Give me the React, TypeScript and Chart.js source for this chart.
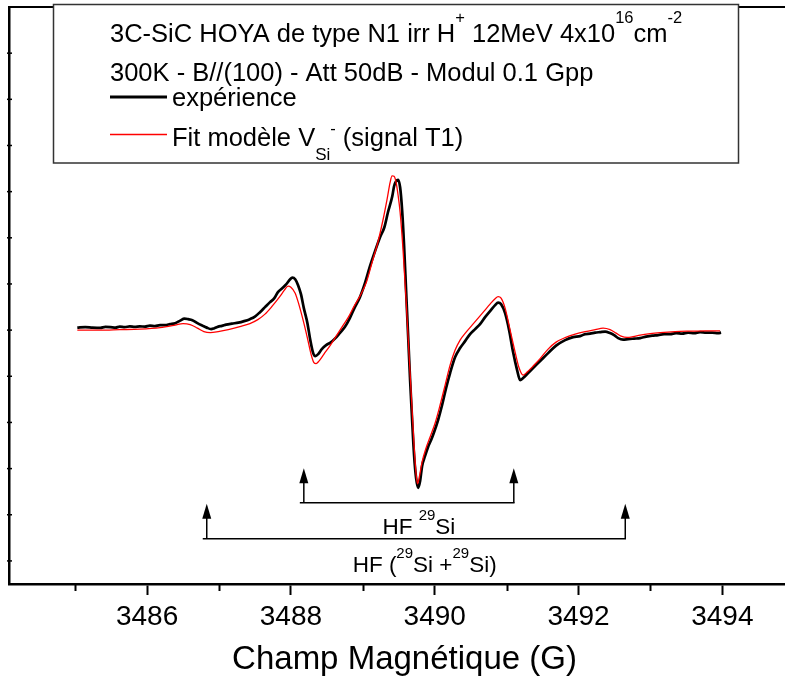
import React, { useEffect, useRef } from 'react';
import { Chart, registerables } from 'chart.js';

Chart.register(...registerables);

const FONT = '"Liberation Sans", Arial, Helvetica, sans-serif';

// Spectre expérimental : [champ (G), signal RPE (u.a.)]
const expPoints: [number, number][] = [
  [3485.03, 0.054], [3485.14, 0.065], [3485.24, 0.054], [3485.35, 0.048], [3485.42, 0.069],
  [3485.49, 0.065], [3485.56, 0.054], [3485.62, 0.076], [3485.69, 0.065], [3485.76, 0.08],
  [3485.83, 0.069], [3485.9, 0.08], [3485.97, 0.076], [3486.04, 0.097], [3486.11, 0.087],
  [3486.18, 0.108], [3486.25, 0.108], [3486.32, 0.13], [3486.39, 0.151], [3486.46, 0.206],
  [3486.52, 0.249], [3486.57, 0.238], [3486.63, 0.216], [3486.7, 0.151], [3486.77, 0.097],
  [3486.83, 0.054], [3486.89, 0.022], [3486.93, 0.037], [3486.99, 0.076], [3487.04, 0.091],
  [3487.1, 0.119], [3487.18, 0.141], [3487.27, 0.162], [3487.35, 0.195], [3487.43, 0.238],
  [3487.5, 0.292], [3487.57, 0.389], [3487.64, 0.498], [3487.71, 0.606], [3487.77, 0.692],
  [3487.82, 0.822], [3487.88, 0.909], [3487.93, 0.984], [3487.99, 1.103], [3488.02, 1.136],
  [3488.06, 1.103], [3488.1, 0.974], [3488.14, 0.779], [3488.18, 0.476], [3488.23, 0.151],
  [3488.27, -0.216], [3488.31, -0.498], [3488.34, -0.563], [3488.38, -0.519], [3488.43, -0.411],
  [3488.49, -0.325], [3488.55, -0.27], [3488.62, -0.173], [3488.68, -0.065], [3488.75, 0.065],
  [3488.82, 0.26], [3488.89, 0.498], [3488.96, 0.714], [3489.03, 1.017], [3489.1, 1.385],
  [3489.17, 1.709], [3489.24, 2.012], [3489.3, 2.229], [3489.35, 2.553], [3489.41, 2.899],
  [3489.435, 3.116], [3489.463, 3.224], [3489.491, 3.256], [3489.519, 3.094], [3489.547, 2.596],
  [3489.574, 1.839], [3489.602, 0.865], [3489.63, -0.108], [3489.658, -1.082], [3489.686, -1.947],
  [3489.713, -2.705], [3489.741, -3.202], [3489.769, -3.418], [3489.797, -3.267], [3489.825, -2.942],
  [3489.866, -2.726], [3489.908, -2.531], [3489.95, -2.38], [3489.992, -2.207], [3490.047, -1.947],
  [3490.103, -1.623], [3490.158, -1.255], [3490.214, -0.93], [3490.284, -0.584], [3490.353, -0.389],
  [3490.423, -0.238], [3490.492, -0.087], [3490.562, 0.022], [3490.631, 0.13], [3490.701, 0.281],
  [3490.77, 0.411], [3490.84, 0.541], [3490.882, 0.595], [3490.923, 0.563], [3490.979, 0.368],
  [3491.035, 0.0], [3491.09, -0.476], [3491.146, -0.865], [3491.188, -1.082], [3491.229, -1.039],
  [3491.299, -0.93], [3491.368, -0.822], [3491.466, -0.671], [3491.577, -0.498], [3491.688, -0.335],
  [3491.814, -0.216], [3491.925, -0.151], [3492.022, -0.13], [3492.092, -0.087], [3492.161, -0.076],
  [3492.231, -0.054], [3492.3, -0.043], [3492.37, -0.032], [3492.439, -0.065], [3492.495, -0.108],
  [3492.551, -0.173], [3492.62, -0.206], [3492.69, -0.195], [3492.773, -0.184], [3492.857, -0.173],
  [3492.94, -0.141], [3493.024, -0.119], [3493.107, -0.108], [3493.19, -0.087], [3493.274, -0.087],
  [3493.357, -0.065], [3493.441, -0.076], [3493.524, -0.054], [3493.608, -0.065], [3493.691, -0.043],
  [3493.775, -0.054], [3493.858, -0.054], [3493.941, -0.065], [3493.983, -0.054],
];

// Fit modèle V_Si- (signal T1) : [champ (G), signal (u.a.)]
const fitPoints: [number, number][] = [
  [3485.03, 0.0], [3485.35, 0.0], [3485.62, 0.011], [3485.9, 0.022], [3486.18, 0.054],
  [3486.39, 0.108], [3486.5, 0.141], [3486.6, 0.119], [3486.7, 0.043], [3486.79, -0.032],
  [3486.88, -0.054], [3486.99, -0.032], [3487.13, 0.011], [3487.29, 0.076], [3487.43, 0.141],
  [3487.54, 0.227], [3487.64, 0.346], [3487.74, 0.519], [3487.84, 0.714], [3487.91, 0.865],
  [3487.96, 0.952], [3488.0, 0.93], [3488.06, 0.801], [3488.11, 0.563], [3488.17, 0.216],
  [3488.23, -0.173], [3488.28, -0.519], [3488.32, -0.703], [3488.35, -0.725], [3488.39, -0.671],
  [3488.46, -0.519], [3488.55, -0.325], [3488.63, -0.13], [3488.71, 0.065], [3488.8, 0.281],
  [3488.88, 0.519], [3488.96, 0.736], [3489.05, 1.039], [3489.13, 1.471], [3489.21, 1.904],
  [3489.28, 2.38], [3489.34, 2.856], [3489.38, 3.202], [3489.407, 3.343], [3489.435, 3.332],
  [3489.463, 3.202], [3489.491, 2.921], [3489.519, 2.553], [3489.56, 1.731], [3489.602, 0.649],
  [3489.644, -0.541], [3489.686, -1.731], [3489.713, -2.488], [3489.741, -3.116], [3489.762, -3.332],
  [3489.783, -3.202], [3489.825, -2.856], [3489.88, -2.553], [3489.936, -2.315], [3490.006, -2.012],
  [3490.075, -1.623], [3490.145, -1.19], [3490.214, -0.757], [3490.284, -0.433], [3490.353, -0.216],
  [3490.437, -0.043], [3490.52, 0.108], [3490.604, 0.26], [3490.687, 0.411], [3490.77, 0.563],
  [3490.84, 0.682], [3490.882, 0.725], [3490.923, 0.692], [3490.979, 0.476], [3491.049, 0.0],
  [3491.118, -0.476], [3491.174, -0.822], [3491.229, -0.974], [3491.285, -0.909], [3491.368, -0.779],
  [3491.466, -0.617], [3491.577, -0.411], [3491.688, -0.26], [3491.814, -0.162], [3491.953, -0.087],
  [3492.092, -0.032], [3492.231, 0.011], [3492.342, 0.043], [3492.439, 0.011], [3492.523, -0.065],
  [3492.592, -0.13], [3492.676, -0.158], [3492.759, -0.141], [3492.857, -0.108], [3492.996, -0.076],
  [3493.135, -0.054], [3493.343, -0.032], [3493.552, -0.022], [3493.761, -0.015], [3493.969, -0.015],
];

const xMajorTicks = [3486, 3488, 3490, 3492, 3494];
const xMinorTicks = [3485, 3487, 3489, 3491, 3493];
const yTicks = [-5, -4, -3, -2, -1, 0, 1, 2, 3, 4, 5, 6];
const xBounds = [3484.08, 3495.08];
const yBounds = [-5.5, 7];

// Repères HF 29Si (flèches)
const arrowStart = [3488.18, 3486.83];
const arrowEnd = [3491.1, 3492.65];
const arrowLevel = [-3.74, -4.52];
const arrowTip = [-2.99, -3.76];
const hfLabelX = [3489.78, 3489.86];
const hfLabelY = [-4.41, -5.23];

type Seg = { t: string; k?: 'sup' | 'sub' };
const hfLabels: Seg[][] = [
  [{ t: 'HF ' }, { t: '29', k: 'sup' }, { t: 'Si' }],
  [{ t: 'HF (' }, { t: '29', k: 'sup' }, { t: 'Si +' }, { t: '29', k: 'sup' }, { t: 'Si)' }],
];

const legendLine1: Seg[] = [
  { t: '3C-SiC HOYA de type N1 irr H' }, { t: '+', k: 'sup' }, { t: ' 12MeV 4x10' },
  { t: '16', k: 'sup' }, { t: 'cm' }, { t: '-2', k: 'sup' },
];
const legendLine2: Seg[] = [{ t: '300K - B//(100) - Att 50dB - Modul 0.1 Gpp' }];
const legendExp: Seg[] = [{ t: 'expérience' }];
const legendFit: Seg[] = [
  { t: 'Fit modèle V' }, { t: 'Si', k: 'sub' }, { t: '-', k: 'sup' }, { t: ' (signal T1)' },
];

interface RichStyle { size: number; supSize: number; supRise: number; subSize: number; subDrop: number }

function drawRich(
  ctx: CanvasRenderingContext2D, segs: Seg[], x: number, y: number, st: RichStyle, align: 'left' | 'center',
) {
  const fontOf = (s: Seg) =>
    `${s.k === 'sup' ? st.supSize : s.k === 'sub' ? st.subSize : st.size}px ${FONT}`;
  const widths = segs.map((s) => { ctx.font = fontOf(s); return ctx.measureText(s.t).width; });
  const total = widths.reduce((a, b) => a + b, 0);
  let cx = align === 'center' ? x - total / 2 : x;
  ctx.textAlign = 'left';
  ctx.textBaseline = 'alphabetic';
  ctx.fillStyle = '#000';
  segs.forEach((s, i) => {
    ctx.font = fontOf(s);
    const dy = s.k === 'sup' ? -st.supRise : s.k === 'sub' ? st.subDrop : 0;
    ctx.fillText(s.t, cx, y + dy);
    cx += widths[i];
  });
}

const decorPlugin = {
  id: 'decor',
  afterDraw(chart: any) {
    const { ctx, chartArea: a, scales } = chart;
    const xs = scales.x;
    const ys = scales.y;
    const line = (x1: number, y1: number, x2: number, y2: number) => {
      ctx.beginPath(); ctx.moveTo(x1, y1); ctx.lineTo(x2, y2); ctx.stroke();
    };
    ctx.save();
    ctx.strokeStyle = '#000';
    ctx.lineCap = 'butt';
    // top frame
    ctx.lineWidth = 2;
    line(a.left, a.top, a.right, a.top);
    // minor x ticks
    ctx.lineWidth = 2;
    for (const v of xMinorTicks) {
      const px = Math.round(xs.getPixelForValue(v)) + 0.5;
      line(px, a.bottom, px, a.bottom + 7);
    }
    // y ticks (crossing)
    ctx.lineWidth = 1.5;
    for (const v of yTicks) {
      const py = ys.getPixelForValue(v);
      line(a.left - 2, py, a.left + 3, py);
    }
    // HF arrows
    ctx.lineWidth = 1.5;
    ctx.fillStyle = '#000';
    for (let i = 0; i < arrowStart.length; i++) {
      const x1 = xs.getPixelForValue(arrowStart[i]);
      const x2 = xs.getPixelForValue(arrowEnd[i]);
      const yl = ys.getPixelForValue(arrowLevel[i]);
      const yt = ys.getPixelForValue(arrowTip[i]);
      line(x1 - 4, yl, x2 + 0.75, yl);
      for (const xp of [x1, x2]) {
        line(xp, yl, xp, yt + 12);
        ctx.beginPath();
        ctx.moveTo(xp, yt);
        ctx.lineTo(xp - 4.5, yt + 15);
        ctx.lineTo(xp + 4.5, yt + 15);
        ctx.closePath();
        ctx.fill();
      }
    }
    // HF labels
    const hfStyle = { size: 22.5, supSize: 15, supRise: 14, subSize: 14, subDrop: 5 };
    hfLabels.forEach((segs, i) => {
      drawRich(ctx, segs, xs.getPixelForValue(hfLabelX[i]), ys.getPixelForValue(hfLabelY[i]), hfStyle, 'center');
    });
    // Legend box
    const bx = 53.5, by = 4.5, bw = 685, bh = 158.5;
    ctx.fillStyle = '#fff';
    ctx.fillRect(bx, by, bw, bh);
    ctx.strokeStyle = '#333';
    ctx.lineWidth = 1.5;
    ctx.strokeRect(bx, by, bw, bh);
    const lg = { size: 25.5, supSize: 16.5, supRise: 19, subSize: 17, subDrop: 14 };
    drawRich(ctx, legendLine1, 110, 42.3, lg, 'left');
    drawRich(ctx, legendLine2, 110, 81, lg, 'left');
    ctx.strokeStyle = '#000';
    ctx.lineWidth = 3;
    line(110, 97, 167, 97);
    drawRich(ctx, legendExp, 172, 106, lg, 'left');
    ctx.strokeStyle = '#ff0000';
    ctx.lineWidth = 1.3;
    line(110, 134.5, 167, 134.5);
    drawRich(ctx, legendFit, 172, 145.7, { ...lg, supRise: 12 }, 'left');
    ctx.restore();
  },
};

export default function App() {
  const canvasRef = useRef<HTMLCanvasElement | null>(null);

  useEffect(() => {
    const canvas = canvasRef.current;
    if (!canvas) return;
    const chart = new Chart(canvas, {
      type: 'line',
      data: {
        datasets: [
          {
            label: 'Fit modèle',
            data: fitPoints.map(([x, y]) => ({ x, y })),
            borderColor: '#ff0000',
            borderWidth: 1.3,
            pointRadius: 0,
            cubicInterpolationMode: 'monotone',
            fill: false,
            order: 0,
          },
          {
            label: 'expérience',
            data: expPoints.map(([x, y]) => ({ x, y })),
            borderColor: '#000000',
            borderWidth: 2.7,
            pointRadius: 0,
            cubicInterpolationMode: 'monotone',
            fill: false,
            order: 1,
          },
        ],
      },
      options: {
        animation: false,
        responsive: false,
        devicePixelRatio: 1,
        layout: { padding: { top: 7, left: 0, right: 0, bottom: 0 } },
        plugins: { legend: { display: false }, tooltip: { enabled: false } },
        scales: {
          x: {
            type: 'linear',
            position: 'bottom',
            min: xBounds[0],
            max: xBounds[1],
            afterBuildTicks: (s: any) => { s.ticks = xMajorTicks.map((v) => ({ value: v })); },
            afterFit: (s: any) => { s.height = 93; },
            ticks: {
              font: { family: FONT, size: 28 },
              color: '#000',
              padding: 5,
              autoSkip: false,
              maxRotation: 0,
              callback: (v: any) => String(v),
            },
            grid: { drawOnChartArea: false, drawTicks: true, tickLength: 11, tickWidth: 2, tickColor: '#000' },
            border: { display: true, color: '#000', width: 2.5 },
            title: {
              display: true,
              text: 'Champ Magnétique (G)',
              color: '#000',
              font: { family: FONT, size: 33, lineHeight: 1 },
              padding: { top: 0, bottom: 1 },
            },
          },
          y: {
            type: 'linear',
            min: yBounds[0],
            max: yBounds[1],
            afterBuildTicks: (s: any) => { s.ticks = yTicks.map((v) => ({ value: v })); },
            afterFit: (s: any) => { s.width = 9; },
            ticks: { display: false },
            grid: { drawOnChartArea: false, drawTicks: false },
            border: { display: true, color: '#000', width: 2.5 },
          },
        },
      } as any,
      plugins: [decorPlugin],
    });
    return () => chart.destroy();
  }, []);

  return (
    <div style={{ position: 'absolute', left: 0, top: 0, width: 785, height: 677, overflow: 'hidden', background: '#fff' }}>
      <canvas ref={canvasRef} width={800} height={677} style={{ display: 'block', width: 800, height: 677 }} />
    </div>
  );
}
